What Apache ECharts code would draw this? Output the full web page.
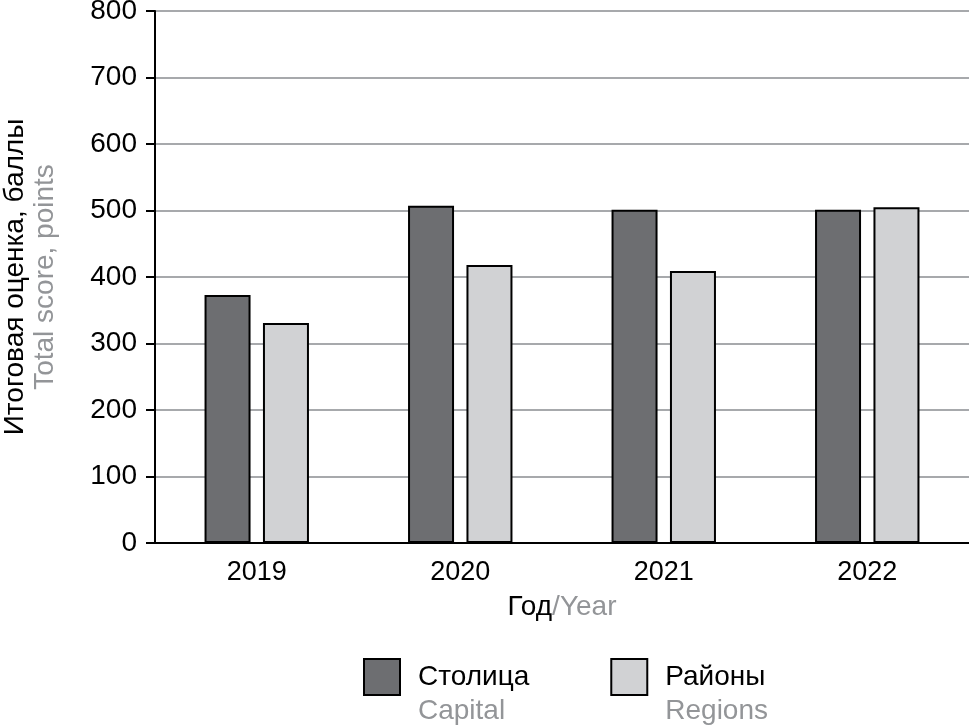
<!DOCTYPE html>
<html>
<head>
<meta charset="utf-8">
<script src="https://cdn.jsdelivr.net/npm/echarts@6/dist/echarts.min.js"></script>
<style>html,body{margin:0;padding:0;background:#fff}#c{width:969px;height:726px}</style>
</head>
<body>
<div id="c"></div>
<script>
const years = ['2019', '2020', '2021', '2022'];
const capital = [373, 507, 501, 501];
const regions = [331, 418, 409, 505];
const yTicks = [0, 100, 200, 300, 400, 500, 600, 700, 800];
const seriesNames = [['Столица', 'Capital'], ['Районы', 'Regions']];

const FONT = 'Liberation Sans';
const GRAY = '#939598';
const FS = 28;
const chart = echarts.init(document.getElementById('c'));
chart.setOption({
  animation: false,
  textStyle: { fontFamily: FONT },
  grid: { left: 155, right: 0, top: 11, bottom: 183, containLabel: false, outerBoundsMode: 'none' },
  legend: {
    left: 363, top: 629, padding: 0,
    itemWidth: 36, itemHeight: 36, itemGap: 81,
    icon: 'rect',
    selectedMode: false,
    data: seriesNames.map(n => n[0]),
    formatter: function (name) {
      const pair = seriesNames.find(n => n[0] === name);
      return '{e| }\n{a|' + pair[0] + '}\n{b|' + pair[1] + '}';
    },
    textStyle: {
      fontFamily: FONT,
      rich: {
        e: { fontSize: FS, lineHeight: 34, padding: [0, 0, 0, 13] },
        a: { fontSize: FS, lineHeight: 34, color: '#000', fontFamily: FONT, padding: [0, 0, 0, 13] },
        b: { fontSize: FS, lineHeight: 34, color: GRAY, fontFamily: FONT, padding: [0, 0, 0, 13] }
      }
    }
  },
  xAxis: {
    type: 'category',
    data: years,
    axisLine: { lineStyle: { color: '#000', width: 2 } },
    axisTick: { show: false },
    axisLabel: { color: '#000', fontSize: 27, margin: 16, fontFamily: FONT },
    name: '{a|Год}{b|/Year}',
    nameLocation: 'middle',
    nameGap: 50,
    nameTextStyle: {
      rich: {
        a: { fontSize: FS, color: '#000', fontFamily: FONT },
        b: { fontSize: FS, color: GRAY, fontFamily: FONT }
      }
    }
  },
  yAxis: {
    type: 'value',
    min: 0, max: 800, interval: 100,
    axisLine: { show: true, lineStyle: { color: '#000', width: 2 } },
    axisTick: { show: true, length: 9, lineStyle: { color: '#000', width: 2 } },
    axisLabel: {
      color: '#000', fontSize: FS, margin: 18, fontFamily: FONT,
      formatter: v => yTicks.includes(v) ? String(v) : ''
    },
    splitLine: { lineStyle: { color: '#a7a9ac', width: 2 } },
    name: '{a|Итоговая оценка, баллы}\n{b|Total score, points}',
    nameLocation: 'middle',
    nameRotate: 90,
    nameGap: 95,
    nameTextStyle: {
      rich: {
        a: { fontSize: FS, lineHeight: 30, color: '#000', fontFamily: FONT },
        b: { fontSize: FS, lineHeight: 30, color: GRAY, fontFamily: FONT }
      }
    }
  },
  series: [
    {
      name: seriesNames[0][0], type: 'bar', data: capital,
      barWidth: 46, barGap: '27%',
      itemStyle: { color: '#6d6e71', borderColor: '#000', borderWidth: 2 }
    },
    {
      name: seriesNames[1][0], type: 'bar', data: regions,
      barWidth: 46, barGap: '27%',
      itemStyle: { color: '#d1d2d4', borderColor: '#000', borderWidth: 2 }
    }
  ]
});
</script>
</body>
</html>
